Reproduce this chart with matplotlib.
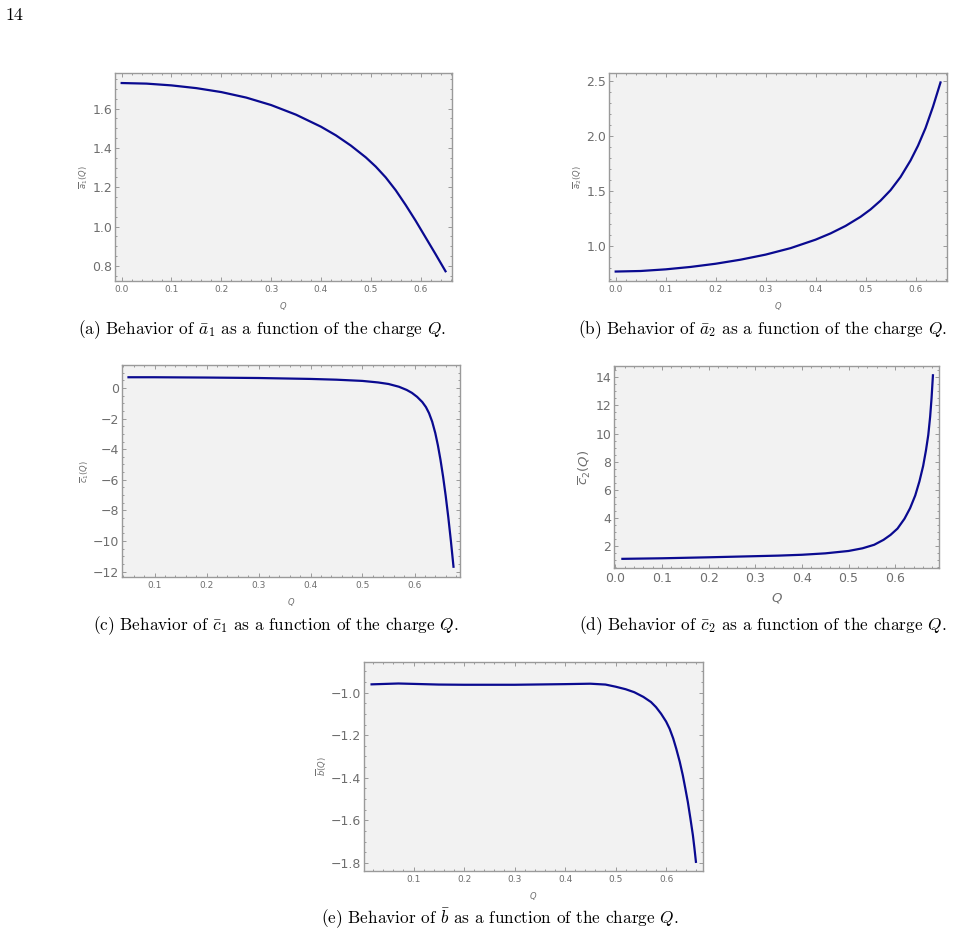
import numpy as np
import matplotlib
matplotlib.use('Agg')
import matplotlib.pyplot as plt
from matplotlib.ticker import MultipleLocator, FuncFormatter

# values
q_a1 = [0.0, 0.05, 0.1, 0.15, 0.2, 0.25, 0.3, 0.35, 0.4, 0.43, 0.46, 0.49, 0.51, 0.53,
        0.55, 0.57, 0.59, 0.61, 0.63, 0.65]
a1 = [1.730, 1.727, 1.718, 1.704, 1.684, 1.656, 1.618, 1.569, 1.508, 1.464, 1.412, 1.352,
      1.305, 1.250, 1.185, 1.110, 1.030, 0.945, 0.860, 0.773]

q_a2 = [0.0, 0.05, 0.1, 0.15, 0.2, 0.25, 0.3, 0.35, 0.4, 0.43, 0.46, 0.49, 0.51, 0.53,
        0.55, 0.57, 0.59, 0.605, 0.62, 0.635, 0.65]
a2 = [0.770, 0.775, 0.790, 0.812, 0.841, 0.878, 0.924, 0.983, 1.060, 1.117, 1.185, 1.268,
      1.335, 1.415, 1.510, 1.630, 1.780, 1.915, 2.075, 2.270, 2.490]

q_c1 = [0.05, 0.1, 0.2, 0.3, 0.4, 0.45, 0.5, 0.53, 0.55, 0.57, 0.585, 0.595, 0.605, 0.615,
        0.622, 0.628, 0.634, 0.64, 0.645, 0.65, 0.655, 0.66, 0.665, 0.67, 0.675]
c1 = [0.70, 0.70, 0.68, 0.65, 0.59, 0.54, 0.46, 0.36, 0.26, 0.08, -0.13, -0.32, -0.58, -0.92,
      -1.25, -1.65, -2.2, -2.95, -3.75, -4.7, -5.8, -7.05, -8.45, -10.0, -11.68]

q_c2 = [0.015, 0.1, 0.2, 0.3, 0.35, 0.4, 0.45, 0.5, 0.53, 0.555, 0.575, 0.59, 0.605, 0.62,
        0.632, 0.643, 0.652, 0.66, 0.666, 0.671, 0.675, 0.678, 0.681]
c2 = [1.10, 1.14, 1.21, 1.29, 1.33, 1.39, 1.49, 1.66, 1.85, 2.1, 2.45, 2.8, 3.25, 3.95,
      4.7, 5.6, 6.6, 7.7, 8.8, 9.9, 11.2, 12.5, 14.14]

q_b = [0.017, 0.07, 0.15, 0.2, 0.3, 0.4, 0.45, 0.48, 0.5, 0.52, 0.537, 0.555, 0.57, 0.58,
       0.59, 0.6, 0.607, 0.614, 0.62, 0.627, 0.633, 0.638, 0.643, 0.648, 0.653, 0.656, 0.659]
b = [-0.961, -0.957, -0.962, -0.963, -0.963, -0.960, -0.958, -0.962, -0.972, -0.984, -0.998,
     -1.020, -1.044, -1.068, -1.099, -1.136, -1.170, -1.215, -1.263, -1.325, -1.388, -1.450,
     -1.514, -1.590, -1.670, -1.730, -1.795]

W, H = 954, 935
GRAY = '#6e6e6e'
FRAME = '#9a9a9a'
LINE = '#0a0a90'

fig = plt.figure(figsize=(W / 100, H / 100), dpi=100)


def fmt(dec):
    def f(v, pos):
        s = f'{v:.{dec}f}'
        if s.startswith('-0') and float(s) == 0:
            s = s[1:]
        return s.replace('-', '\u2212')
    return FuncFormatter(f)


def panel(px, q, v, xlim, ylim, ymaj, ymin, ydec, ylab,
          ysize=9, xsize=6.5, labsize=6, xdec=1):
    l, r, t, btm = px
    ax = fig.add_axes([l / W, 1 - btm / H, (r - l) / W, (btm - t) / H])
    ax.set_facecolor('#f2f2f2')
    ax.plot(q, v, color=LINE, lw=1.6, solid_joinstyle='round')
    ax.set_xlim(*xlim)
    ax.set_ylim(*ylim)
    ax.xaxis.set_major_locator(MultipleLocator(0.1))
    ax.xaxis.set_minor_locator(MultipleLocator(0.02))
    ax.yaxis.set_major_locator(MultipleLocator(ymaj))
    ax.yaxis.set_minor_locator(MultipleLocator(ymin))
    ax.xaxis.set_major_formatter(fmt(xdec))
    ax.yaxis.set_major_formatter(fmt(ydec))
    ax.tick_params(which='both', direction='in', top=True, right=True,
                   color=FRAME, width=0.7)
    ax.tick_params(which='major', length=3)
    ax.tick_params(which='minor', length=1.6)
    ax.tick_params(axis='x', labelsize=xsize, labelcolor=GRAY, pad=3)
    ax.tick_params(axis='y', labelsize=ysize, labelcolor=GRAY, pad=2)
    for s in ax.spines.values():
        s.set_color(FRAME)
        s.set_linewidth(1.0)
    ax.set_xlabel('$Q$', fontsize=labsize, color=GRAY, math_fontfamily='dejavusans')
    ax.set_ylabel(ylab, fontsize=labsize, color=GRAY, math_fontfamily='dejavusans',
                  labelpad=1.5)
    return ax


panel((115, 452, 73, 281), q_a1, a1, (-0.0134, 0.663), (0.7235, 1.781),
      0.2, 0.05, 1, r'$\overline{a}_1(Q)$')
panel((609, 947, 73, 281), q_a2, a2, (-0.0134, 0.663), (0.684, 2.576),
      0.5, 0.1, 1, r'$\overline{a}_2(Q)$')
panel((122, 460, 365, 577), q_c1, c1, (0.0375, 0.6875), (-12.35, 1.5),
      2, 0.5, 0, r'$\overline{c}_1(Q)$')
panel((614, 939, 366, 568), q_c2, c2, (-0.003, 0.694), (0.45, 14.8),
      2, 0.5, 0, r'$\overline{c}_2(Q)$', ysize=9, xsize=9, labsize=9.5)
panel((364, 703, 662, 871), q_b, b, (0.002, 0.673), (-1.838, -0.856),
      0.2, 0.05, 1, r'$\overline{b}(Q)$')

captions = [
    (262, 330, r'(a) Behavior of $\bar{a}_1$ as a function of the charge $Q$.'),
    (763, 330, r'(b) Behavior of $\bar{a}_2$ as a function of the charge $Q$.'),
    (276, 626, r'(c) Behavior of $\bar{c}_1$ as a function of the charge $Q$.'),
    (763, 626, r'(d) Behavior of $\bar{c}_2$ as a function of the charge $Q$.'),
    (500, 919, r'(e) Behavior of $\bar{b}$ as a function of the charge $Q$.'),
]
for x, y, s in captions:
    fig.text(x / W, 1 - y / H, s, ha='center', va='center', fontsize=12.4,
             family='cmr10', math_fontfamily='cm', color='black')

fig.text(5 / W, 1 - 15 / H, '14', ha='left', va='center', fontsize=13,
         family='cmr10', color='black')

fig.savefig('out.png', dpi=100, facecolor='white')
